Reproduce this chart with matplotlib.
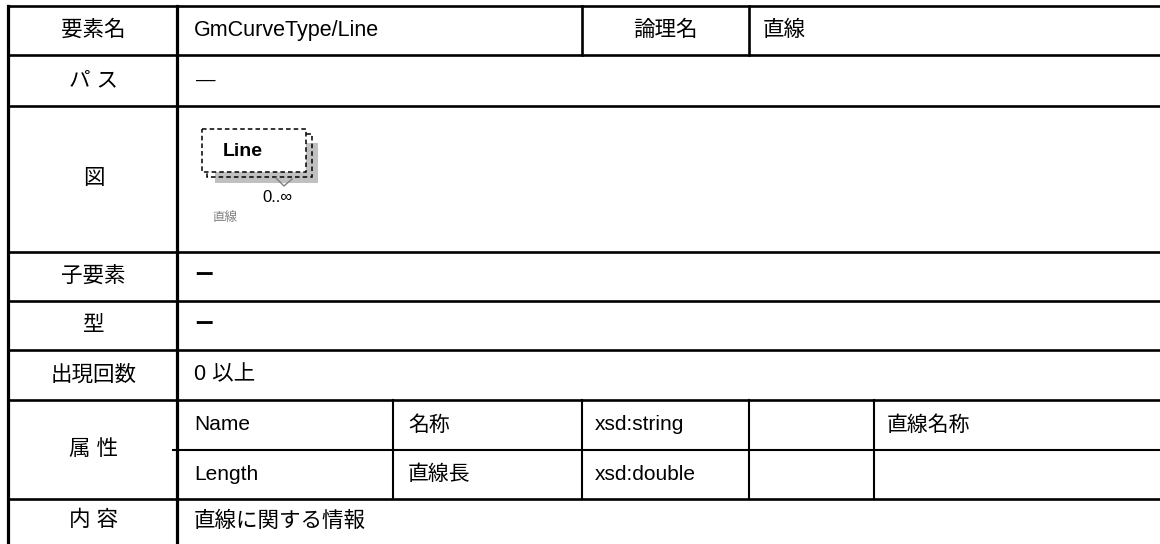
import matplotlib
matplotlib.use("Agg")
import matplotlib.pyplot as plt
from matplotlib.patches import Rectangle

plt.rcParams['font.family'] = ['Liberation Sans', 'Noto Sans CJK JP', 'DejaVu Sans']

# table content
row_labels = ["要素名", "パ ス", "図", "子要素", "型", "出現回数", "属 性", "", "内 容"]
element_name = "GmCurveType/Line"
logical_label = "論理名"
logical_name = "直線"
path_value = "—"
child_value = "ー"
type_value = "ー"
occurs_value = "0 以上"
content_value = "直線に関する情報"
attr_names = ["Name", "Length"]
attr_jp = ["名称", "直線長"]
attr_types = ["xsd:string", "xsd:double"]
attr_extra = ["", ""]
attr_desc = ["直線名称", ""]
diagram_name = "Line"
diagram_card = "0..∞"
diagram_caption = "直線"

# layout (pixels)
W, H = 1160, 544
row_y = [6, 55, 106, 252, 301, 350, 400, 450, 499, 560]
x_left, x_col1, x_right = 8, 177, 1170
head_cols = [582, 749]
attr_cols = [393, 582, 749, 874]
lw_main = 1.9
lw_thin = 1.5
fs = 15.5
fs_attr = 15

fig = plt.figure(figsize=(W / 100, H / 100), dpi=100)
ax = fig.add_axes([0, 0, 1, 1])
ax.set_xlim(0, W)
ax.set_ylim(H, 0)
ax.axis('off')

# horizontal rules
for i, y in enumerate(row_y):
    if i == 7:
        ax.plot([x_col1 - 5, x_right], [y, y], color='black', lw=lw_thin, solid_capstyle='butt')
    else:
        ax.plot([x_left, x_right], [y, y], color='black', lw=lw_main, solid_capstyle='butt')

# vertical rules
ax.plot([x_left, x_left], [row_y[0], row_y[-1]], color='black', lw=lw_main + 0.4)
ax.plot([x_col1, x_col1], [row_y[0], row_y[-1]], color='black', lw=lw_main + 0.4)
for x in head_cols:
    ax.plot([x, x], [row_y[0], row_y[1]], color='black', lw=lw_main)
for x in attr_cols:
    ax.plot([x, x], [row_y[6], row_y[8]], color='black', lw=lw_thin)


def mid(i):
    return (row_y[i] + row_y[i + 1]) / 2


# row labels
label_x = (x_left + x_col1) / 2 + 1
for i, lab in enumerate(row_labels):
    if not lab:
        continue
    y = mid(i)
    if i == 6:
        y = row_y[7] - 1
    if i == 8:
        y = 521
    ax.text(label_x, y, lab, ha='center', va='center', fontsize=fs)

tx = 194
ax.text(tx, mid(0), element_name, ha='left', va='center', fontsize=fs)
ax.text((head_cols[0] + head_cols[1]) / 2, mid(0), logical_label, ha='center', va='center', fontsize=fs)
ax.text(head_cols[1] + 14, mid(0), logical_name, ha='left', va='center', fontsize=fs)
ax.text(tx + 2, mid(1), path_value, ha='left', va='center', fontsize=14)
ax.text(tx, mid(3), child_value, ha='left', va='center', fontsize=14, fontweight='bold')
ax.text(tx, mid(4), type_value, ha='left', va='center', fontsize=14, fontweight='bold')
ax.text(tx, mid(5), occurs_value, ha='left', va='center', fontsize=fs)
ax.text(tx, 521, content_value, ha='left', va='center', fontsize=fs)

# attribute rows
attr_x = [tx, attr_cols[0] + 15, attr_cols[1] + 13, attr_cols[2] + 13, attr_cols[3] + 13]
for k in range(2):
    y = mid(6 + k)
    vals = [attr_names[k], attr_jp[k], attr_types[k], attr_extra[k], attr_desc[k]]
    for x, v in zip(attr_x, vals):
        ax.text(x, y, v, ha='left', va='center', fontsize=fs_attr)

# diagram
ax.add_patch(Rectangle((215, 143), 103, 40, facecolor='#c0c0c0', edgecolor='none'))
ax.add_patch(Rectangle((207, 134), 105, 43, facecolor='none', edgecolor='black',
                       lw=1.1, linestyle=(0, (3, 2))))
ax.add_patch(Rectangle((202, 129), 104, 43, facecolor='white', edgecolor='black',
                       lw=1.1, linestyle=(0, (3, 2))))
ax.plot([276, 284, 292], [178, 186, 179], color='#808080', lw=1.0)
ax.text(243, 152, diagram_name, ha='center', va='center', fontsize=14, fontweight='bold')
ax.text(277, 197, diagram_card, ha='center', va='center', fontsize=12)
ax.text(212, 218, diagram_caption, ha='left', va='center', fontsize=9, color='#808080')

fig.savefig("out.png", dpi=100)
